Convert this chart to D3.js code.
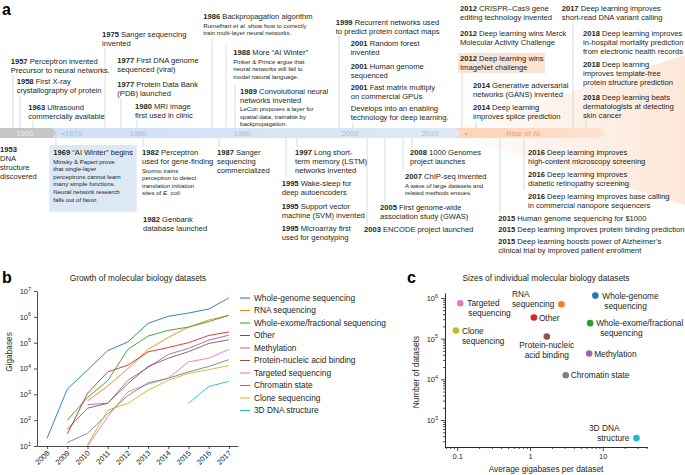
<!doctype html>
<html lang="en">
<head>
<meta charset="UTF-8">
<title>Deep learning and biology timeline</title>
<style>
  * { padding: 0; margin: 0; }
  body { background: #fff; }
  svg { display: block; font-family: "Liberation Sans", Arial, sans-serif; }
  .hd { font-size: 7.6px; fill: #231f20; }
  .yr { font-weight: bold; }
  .nt { font-size: 6.1px; fill: #231f20; }
  .conn { stroke: #c5d3e1; stroke-width: 0.8; }
  .plabel { font-size: 16px; font-weight: bold; fill: #000; }
  .ttl { font-size: 8.3px; fill: #231f20; }
  .lbl { font-size: 8.3px; fill: #231f20; }
  .axis path, .axis line { stroke: #231f20; stroke-width: 0.8; }
  .axis text { font-size: 7.5px; fill: #231f20; font-family: "Liberation Sans", Arial, sans-serif; }
</style>
<script src="https://d3js.org/d3.v7.min.js"></script>
</head>
<body>
<svg width="685" height="475"></svg>
<script>
  // ---------------- data ----------------
  // timeline: [year, headline lines, small print lines]  (_text_ = italic)
  var events = [
    [1957, ["Perceptron invented", "Precursor to neural networks."], []],
    [1958, ["First X-ray", "crystallography of protein"], []],
    [1963, ["Ultrasound", "commercially available"], []],
    [1975, ["Sanger sequencing", "invented"], []],
    [1977, ["First DNA genome", "sequenced (viral)"], []],
    [1977, ["Protein Data Bank", "(PDB) launched"], []],
    [1980, ["MRI image", "first used in clinic"], []],
    [1986, ["Backpropagation algorithm"], ["Rumelhart _et al._ show how to correctly", "train multi-layer neural networks."]],
    [1988, ["More \u201cAI Winter\u201d"], ["Pinker & Prince argue that", "neural networks will fail to", "model natural language."]],
    [1989, ["Convolutional neural", "networks invented"], ["LeCun proposes a layer for", "spatial data, trainable by", "backpropagation."]],
    [1999, ["Recurrent networks used", "to predict protein contact maps"], []],
    [2001, ["Random forest", "invented"], []],
    [2001, ["Human genome", "sequenced"], []],
    [2001, ["Fast matrix multiply", "on commercial GPUs"], []],
    [null, ["Develops into an enabling", "technology for deep learning."], []],
    [2012, ["CRISPR\u2013Cas9 gene", "editing technology invented"], []],
    [2012, ["Deep learning wins Merck", "Molecular Activity Challenge"], []],
    [2012, ["Deep learning wins", "ImageNet challenge"], []],
    [2014, ["Generative adversarial", "networks (GANS) invented"], []],
    [2014, ["Deep learning", "improves splice prediction"], []],
    [2017, ["Deep learning improves", "short-read DNA variant calling"], []],
    [2018, ["Deep learning improves", "in-hospital mortality prediction", "from electronic health records"], []],
    [2018, ["Deep learning", "improves template-free", "protein structure prediction"], []],
    [2018, ["Deep learning beats", "dermatologists at detecting", "skin cancer"], []],
    [1953, ["", "DNA", "structure", "discovered"], []],
    [1969, ["\u201cAI Winter\u201d begins"], ["Minsky & Papert prove", "that single-layer", "perceptrons cannot learn", "many simple functions.", "Neural network research", "falls out of favor."]],
    [1982, ["Perceptron", "used for gene-finding"], ["Stormo trains", "perceptron to detect", "translation initiation", "sites of _E. coli_."]],
    [1982, ["Genbank", "database launched"], []],
    [1987, ["Sanger", "sequencing", "commercialized"], []],
    [1997, ["Long short-", "term memory (LSTM)", "networks invented"], []],
    [1995, ["Wake-sleep for", "deep autoencoders"], []],
    [1995, ["Support vector", "machine (SVM) invented"], []],
    [1995, ["Microarray first", "used for genotyping"], []],
    [2008, ["1000 Genomes", "project launches"], []],
    [2007, ["ChIP-seq invented"], ["A wave of large datasets and", "related methods ensues."]],
    [2005, ["First genome-wide", "association study (GWAS)"], []],
    [2003, ["ENCODE project launched"], []],
    [2016, ["Deep learning improves", "high-content microscopy screening"], []],
    [2016, ["Deep learning improves", "diabetic retinopathy screening"], []],
    [2016, ["Deep learning improves base calling", "in commercial nanopore sequencers"], []],
    [2015, ["Human genome sequencing for $1000"], []],
    [2015, ["Deep learning improves protein binding prediction"], []],
    [2015, ["Deep learning boosts power of Alzheimer\u2019s", "clinical trial by improved patient enrollment"], []]
  ];
  var barYears = [1960, 1970, 1980, 1990, 2000, 2010];

  // panel b
  var years = [2008, 2009, 2010, 2011, 2012, 2013, 2014, 2015, 2016, 2017];
  var dataTypes = ["Whole-genome sequencing", "RNA sequencing", "Whole-exome/fractional sequencing", "Other",
    "Methylation", "Protein-nucleic acid binding", "Targeted sequencing", "Chromatin state",
    "Clone sequencing", "3D DNA structure"];
  var wholeGenome = [20, 1600, 8700, 49000, 107000, 560000, 1050000, 1400000, 2000000, 5400000];
  var rnaSeq = [null, null, 560, 2100, 10000, 55000, 160000, 400000, 750000, 1150000];
  var wholeExome = [null, 100, 750, 3400, 55000, 180000, 300000, 400000, 650000, 1150000];
  var other = [null, 29, 1100, 7400, 13500, 44000, 65000, 100000, 190000, 260000];
  var methylation = [null, null, 400, 450, 3500, 11000, 35000, 60000, 125000, 195000];
  var proteinNA = [null, 44, 290, 450, 2600, 12000, 25000, 45000, 93000, 130000];
  var targeted = [null, null, 10, 135, 1250, 2500, 4200, 18000, 25000, 55000];
  var chromatin = [null, 13.5, 31, 175, 900, 2800, 4200, 7400, 12000, 22000];
  var cloneSeq = [null, null, 11, 245, 450, 1450, 3500, 6500, 9000, 13000];
  var dna3d = [null, null, null, null, null, null, null, 450, 2000, 3200];
  var growth = [wholeGenome, rnaSeq, wholeExome, other, methylation, proteinNA, targeted, chromatin, cloneSeq, dna3d];

  // panel c
  var avgGigabases = [7.9, 2.7, 6.7, 1.13, 6.5, 1.7, 0.11, 3.1, 0.096, 29];
  var numDatasets = [1140000, 700000, 240000, 330000, 43000, 113000, 740000, 12600, 158000, 360];
  var shortNames = [["Whole-genome", "sequencing"], ["RNA", "sequencing"], ["Whole-exome/fractional", "sequencing"],
    ["Other"], ["Methylation"], ["Protein-nucleic", "acid binding"], ["Targeted", "sequencing"],
    ["Chromatin state"], ["Clone", "sequencing"], ["3D DNA", "structure"]];

  // ---------------- layout ----------------
  // event text: [x, first baseline, connector x, connector far end]
  var eventPos = [
    [10.7, 64, 13, 75], [16.7, 83.5, 20, 96], [28.3, 109.5, 33, 121], [102, 37, 105, 48],
    [117.3, 63], [117.3, 87, 121, 99], [135, 108.5, 137, 120],
    [203.3, 19, 212, 38], [233.3, 55, 226, 45], [240, 93.5, 235, 85],
    [335.7, 24.5, 339, 36], [350.7, 46], [350.7, 68.5], [350.7, 89.5], [350.7, 110.5, 353, 122],
    [460, 11], [460, 35.5], [460, 61, 462, 73], [473, 88], [473, 109.5, 476, 121],
    [561.7, 11, 573, 22], [583, 36], [583, 67], [583, 99.5, 586, 121],
    [0, 152], [53.3, 155, 56, 145], [142, 155, 143, 147], [143, 222], [217, 154.5, 219, 147],
    [295, 154.5, 297, 147], [281.7, 185.5, 286, 177], [281.7, 209], [281.7, 230.5],
    [410, 154.5, 412, 147], [405, 179, 403, 171], [380, 210, 385, 202], [364, 232, 367, 224],
    [528, 154.5, 524, 190], [528, 177], [528, 198.5],
    [498.3, 220.5, 500, 212], [498.3, 232], [498.3, 243.5]
  ];
  var boxes = [[49.3, 145, 87.4, 66.7, "#dce8f4"], [458, 53, 87, 20, "#fce3d3"]];
  var barTop = 128, barBot = 138, barMid = 133;

  var svg = d3.select("svg");
  var defs = svg.append("defs");

  // ---------------- panel a ----------------
  var ga = svg.append("g");
  ga.append("text").attr("class", "plabel").attr("x", 2).attr("y", 15).text("a");

  var fan = defs.append("linearGradient").attr("id", "fan")
    .attr("gradientUnits", "userSpaceOnUse").attr("x1", 460).attr("x2", 685).attr("y1", 0).attr("y2", 0);
  fan.append("stop").attr("offset", 0).attr("stop-color", "#fde3d1").attr("stop-opacity", 0.1);
  fan.append("stop").attr("offset", 1).attr("stop-color", "#fde3d1").attr("stop-opacity", 0.85);
  ga.append("path").attr("d", "M460," + barTop + "L685,55L685,205L460," + barBot + "Z").attr("fill", "url(#fan)");

  // era bar
  function chevron(x0, x1, notch) {
    var d = 5;
    return "M" + x0 + "," + barTop + "L" + x1 + "," + barTop + "L" + (x1 + d) + "," + barMid +
      "L" + x1 + "," + barBot + "L" + x0 + "," + barBot +
      (notch ? "L" + (x0 + d) + "," + barMid : "") + "Z";
  }
  var blueGrad = defs.append("linearGradient").attr("id", "blueBar");
  blueGrad.append("stop").attr("offset", 0).attr("stop-color", "#cfe1f3");
  blueGrad.append("stop").attr("offset", 1).attr("stop-color", "#dde9f6");
  var orGrad = defs.append("linearGradient").attr("id", "orBar");
  orGrad.append("stop").attr("offset", 0).attr("stop-color", "#fdd4b8");
  orGrad.append("stop").attr("offset", 1).attr("stop-color", "#fde2cf");
  ga.append("path").attr("d", chevron(455, 600, true)).attr("fill", "url(#orBar)");
  ga.append("path").attr("d", chevron(52, 455, true)).attr("fill", "url(#blueBar)");
  ga.append("path").attr("d", chevron(0, 52, false)).attr("fill", "#c6c6c6");

  var tl = d3.scaleLinear().domain(barYears).range([25, 72, 138, 242, 350, 430]);
  ga.selectAll(".bary").data(barYears).enter().append("text")
    .attr("class", "bary")
    .attr("x", function (d) { return tl(d); })
    .attr("y", barMid + 2.7)
    .attr("text-anchor", "middle")
    .attr("font-size", "7.6px")
    .attr("fill", function (d) { return d === 1960 ? "#ececec" : "#9fc0e2"; })
    .text(function (d) { return d === 1970 ? "\u20221970" : d; });
  ga.append("text").attr("x", 466).attr("y", barMid + 2.7).attr("text-anchor", "middle")
    .attr("font-size", "7.6px").attr("fill", "#f4a06a").text("\u2022");
  ga.append("text").attr("x", 506).attr("y", barMid + 2.9)
    .attr("font-size", "8px").attr("fill", "#f4a06a").text("Rise of AI");

  boxes.forEach(function (b) {
    ga.append("rect").attr("x", b[0]).attr("y", b[1]).attr("width", b[2]).attr("height", b[3]).attr("fill", b[4]);
  });

  // connectors
  eventPos.forEach(function (p) {
    if (p[2] == null) return;
    var top = p[1] < barMid;
    ga.append("line").attr("class", "conn")
      .attr("x1", p[2]).attr("x2", p[2])
      .attr("y1", top ? p[3] : barBot).attr("y2", top ? barTop : p[3]);
  });

  function rich(t, str) {
    str.split("_").forEach(function (part, k) {
      if (!part) return;
      var s = t.append("tspan").text(part);
      if (k % 2 === 1) s.attr("font-style", "italic");
    });
  }

  events.forEach(function (ev, i) {
    var p = eventPos[i];
    var y = p[1];
    ev[1].forEach(function (line, j) {
      var t = ga.append("text").attr("class", "hd").attr("x", p[0]).attr("y", y);
      if (j === 0 && ev[0] != null) {
        t.append("tspan").attr("class", "yr").text(ev[0]);
        if (line) t.append("tspan").text(" " + line);
      } else {
        rich(t, line);
      }
      y += 9;
    });
    y -= 0.5;
    ev[2].forEach(function (line) {
      var t = ga.append("text").attr("class", "nt").attr("x", p[0]).attr("y", y);
      rich(t, line);
      y += 7.6;
    });
  });

  // ---------------- panel b ----------------
  var gb = svg.append("g");
  gb.append("text").attr("class", "plabel").attr("x", 2).attr("y", 283).text("b");
  gb.append("text").attr("class", "ttl").attr("x", 138).attr("y", 281).attr("text-anchor", "middle")
    .text("Growth of molecular biology datasets");

  var xB = d3.scaleLinear().domain([2007.5, 2017.45]).range([37, 238]);
  var yB = d3.scaleLog().domain([10, 1e7]).range([446, 291]);

  function supLabel(sel) {
    sel.each(function (d) {
      var t = d3.select(this);
      t.text("10");
      t.append("tspan").attr("dy", "-3.3").attr("font-size", "5.4px").text(Math.round(Math.log10(d)));
    });
  }

  var yAxisB = gb.append("g").attr("class", "axis").attr("transform", "translate(37,0)")
    .call(d3.axisLeft(yB).tickValues([1e1, 1e2, 1e3, 1e4, 1e5, 1e6, 1e7]).tickSize(3).tickSizeOuter(0).tickPadding(3));
  yAxisB.selectAll(".tick text").call(supLabel);

  var xAxisB = gb.append("g").attr("class", "axis").attr("transform", "translate(0,446)")
    .call(d3.axisBottom(xB).tickValues(years).tickFormat(d3.format("d")).tickSize(3).tickSizeOuter(0));
  xAxisB.selectAll(".tick text")
    .attr("y", 0).attr("dy", 0).attr("x", 0)
    .attr("text-anchor", "end")
    .attr("transform", "translate(2.5,7.5) rotate(-45)");

  gb.append("text").attr("class", "lbl").attr("text-anchor", "middle")
    .attr("transform", "translate(12,352) rotate(-90)").text("Gigabases");

  var colors = d3.schemeCategory10;
  var lineB = d3.line()
    .defined(function (d) { return d[1] != null; })
    .x(function (d) { return xB(d[0]); })
    .y(function (d) { return yB(d[1]); });
  gb.selectAll(".series").data(growth).enter().append("path")
    .attr("class", "series")
    .attr("fill", "none")
    .attr("stroke-width", 0.9)
    .attr("stroke", function (d, i) { return colors[i]; })
    .attr("d", function (d) { return lineB(years.map(function (y, k) { return [y, d[k]]; })); });

  var leg = gb.selectAll(".leg").data(dataTypes).enter().append("g")
    .attr("class", "leg")
    .attr("transform", function (d, i) { return "translate(240," + (298 + i * 12.5) + ")"; });
  leg.append("line").attr("x1", 0).attr("x2", 10)
    .attr("stroke", function (d, i) { return colors[i]; }).attr("stroke-width", 1);
  leg.append("text").attr("class", "lbl").attr("x", 14).attr("dy", "0.34em").text(function (d) { return d; });

  // ---------------- panel c ----------------
  var gc = svg.append("g");
  gc.append("text").attr("class", "plabel").attr("x", 407).attr("y", 283).text("c");
  gc.append("text").attr("class", "ttl").attr("x", 546).attr("y", 281).attr("text-anchor", "middle")
    .text("Sizes of individual molecular biology datasets");

  var xC = d3.scaleLog().domain([0.0679, 40.5]).range([445, 647]);
  var yC = d3.scaleLog().domain([217, 1.32e6]).range([447, 293]);

  function minors(lo, hi) {
    var out = [];
    for (var e = -2; e <= 6; e++) {
      for (var m = 2; m <= 9; m++) {
        var v = m * Math.pow(10, e);
        if (v >= lo && v <= hi) out.push(v);
      }
    }
    return out;
  }

  gc.append("g").attr("class", "axis").attr("transform", "translate(0,447)")
    .call(d3.axisBottom(xC).tickValues(minors(0.0679, 40.5)).tickSize(2).tickSizeOuter(0).tickFormat(""));
  gc.append("g").attr("class", "axis").attr("transform", "translate(0,447)")
    .call(d3.axisBottom(xC).tickValues([0.1, 1, 10]).tickSize(4).tickSizeOuter(0).tickPadding(3).tickFormat(d3.format("")));
  gc.append("g").attr("class", "axis").attr("transform", "translate(445,0)")
    .call(d3.axisLeft(yC).tickValues(minors(217, 1.32e6)).tickSize(2).tickSizeOuter(0).tickFormat(""));
  var yAxisC = gc.append("g").attr("class", "axis").attr("transform", "translate(445,0)")
    .call(d3.axisLeft(yC).tickValues([1e3, 1e4, 1e5, 1e6]).tickSize(4).tickSizeOuter(0).tickPadding(3));
  yAxisC.selectAll(".tick text").call(supLabel);

  gc.append("text").attr("class", "lbl").attr("text-anchor", "middle")
    .attr("transform", "translate(419,372) rotate(-90)").text("Number of datasets");
  gc.append("text").attr("class", "lbl").attr("text-anchor", "middle")
    .attr("x", 546).attr("y", 472).text("Average gigabases per dataset");

  gc.selectAll(".dot").data(avgGigabases).enter().append("circle")
    .attr("class", "dot")
    .attr("cx", function (d) { return xC(d); })
    .attr("cy", function (d, i) { return yC(numDatasets[i]); })
    .attr("r", 3.3)
    .attr("fill", function (d, i) { return colors[i]; });

  // label placement per point: [anchor, [dx, dy] per line]
  var labelPos = [
    ["start", [[7, 3], [9, 13]]],
    ["start", [[-49.5, -7], [-49.5, 3]]],
    ["start", [[6, 3], [10, 13]]],
    ["start", [[5, 3]]],
    ["start", [[5, 3]]],
    ["middle", [[0, 12], [0, 22]]],
    ["start", [[7, 3], [8, 13]]],
    ["start", [[5, 3]]],
    ["start", [[6, 3], [6, 13]]],
    ["end", [[-17, -7], [-7, 3]]]
  ];
  shortNames.forEach(function (lines, i) {
    var cx = xC(avgGigabases[i]), cy = yC(numDatasets[i]);
    lines.forEach(function (s, j) {
      var o = labelPos[i][1][j];
      gc.append("text").attr("class", "lbl")
        .attr("text-anchor", labelPos[i][0])
        .attr("x", cx + o[0]).attr("y", cy + o[1]).text(s);
    });
  });
</script>
</body>
</html>
